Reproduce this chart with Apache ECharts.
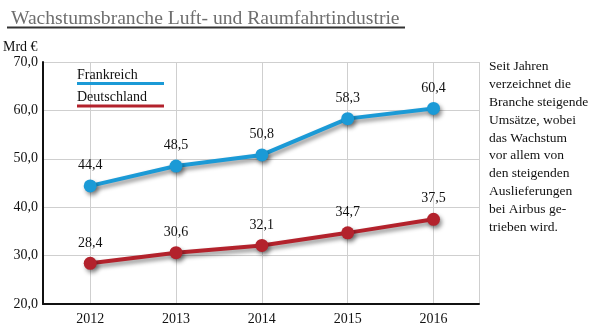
<!DOCTYPE html>
<html>
<head>
<meta charset="utf-8">
<script src="https://cdn.jsdelivr.net/npm/echarts@6/dist/echarts.min.js"></script>
<style>
  html, body { margin: 0; padding: 0; background: #fff; }
  #chart { width: 590px; height: 331px; }
</style>
</head>
<body>
<div id="chart"></div>
<script>
// Umsatz der Luft- und Raumfahrtindustrie in Mrd €
const years = [2012, 2013, 2014, 2015, 2016];
const frankreich = [44.4, 48.5, 50.8, 58.3, 60.4];
const deutschland = [28.4, 30.6, 32.1, 34.7, 37.5];
const yMin = 20, yMax = 70, yStep = 10;
const titleText = 'Wachstumsbranche Luft- und Raumfahrtindustrie';
const unitText = 'Mrd €';
const noteLines = [
  'Seit Jahren', 'verzeichnet die', 'Branche steigende', 'Umsätze, wobei',
  'das Wachstum', 'vor allem von', 'den steigenden', 'Auslieferungen',
  'bei Airbus ge-', 'trieben wird.'
];

const serif = '"Liberation Serif", "DejaVu Serif", serif';
const blue = '#1b9ad6';
const red = '#b3222c';
const fmt = v => v.toFixed(1).replace('.', ',');

const shadow = { shadowColor: 'rgba(0,0,0,0.45)', shadowBlur: 4, shadowOffsetX: 2, shadowOffsetY: 3 };

function lineSeries(name, values, color) {
  return {
    name: name,
    type: 'line',
    data: years.map((y, i) => [y, values[i]]),
    symbol: 'circle',
    symbolSize: 13,
    lineStyle: Object.assign({ color: color, width: 4 }, shadow),
    itemStyle: Object.assign({ color: color }, shadow),
    label: {
      show: true, position: 'top', distance: 7,
      color: '#111', fontFamily: serif, fontSize: 14,
      formatter: p => fmt(p.value[1])
    },
    emphasis: { disabled: true },
    z: 3
  };
}

const chart = echarts.init(document.getElementById('chart'), null, { renderer: 'canvas' });
chart.setOption({
  animation: false,
  backgroundColor: '#fff',
  title: {
    text: titleText, left: 6, top: 4,
    textStyle: { fontFamily: serif, fontSize: 19.6, fontWeight: 'normal', color: '#6e6e6e' }
  },
  graphic: [{
    type: 'line', shape: { x1: 7, y1: 27.5, x2: 405, y2: 27.5 },
    style: { stroke: '#333', lineWidth: 2 }
  }, {
    type: 'text', left: 489, top: 58,
    style: {
      text: noteLines.join('\n'), fontFamily: serif, fontSize: 13.5,
      lineHeight: 17.8, fill: '#111'
    }
  }],
  legend: {
    orient: 'vertical', left: 67, top: 63, itemGap: 1,
    icon: 'none', itemWidth: 0, itemHeight: 0,
    selectedMode: false,
    data: ['Frankreich', 'Deutschland'],
    formatter: name => '{t|' + name + '}\n{' + (name === 'Frankreich' ? 'b' : 'r') + '|}',
    textStyle: {
      rich: {
        t: { fontFamily: serif, fontSize: 14, color: '#111', height: 14, padding: [0, 0, 0, 0] },
        b: { width: 87, height: 3, backgroundColor: blue },
        r: { width: 87, height: 3, backgroundColor: red }
      }
    }
  },
  grid: { left: 43, right: 111, top: 62, bottom: 27, containLabel: false },
  xAxis: {
    type: 'value', min: 2011.45, max: 2016.53,
    axisLine: { show: true, onZero: false, lineStyle: { color: '#111', width: 2 } },
    axisTick: { show: false },
    axisLabel: {
      showMinLabel: false, showMaxLabel: false,
      fontFamily: serif, fontSize: 14, color: '#111', margin: 8,
      formatter: v => Number.isInteger(v) ? String(v) : ''
    },
    splitLine: { show: true, lineStyle: { color: '#cfcfcf', width: 1 } }
  },
  yAxis: {
    type: 'value', min: yMin, max: yMax, interval: yStep,
    name: unitText, nameLocation: 'end', nameGap: 8,
    nameTextStyle: { fontFamily: serif, fontSize: 14, color: '#111', align: 'left', padding: [0, 0, 0, -40] },
    axisLine: { show: true, lineStyle: { color: '#111', width: 2 } },
    axisTick: { show: false },
    axisLabel: { fontFamily: serif, fontSize: 14, color: '#111', margin: 5, formatter: v => fmt(v) },
    splitLine: { show: true, lineStyle: { color: '#cfcfcf', width: 1 } }
  },
  series: [
    lineSeries('Frankreich', frankreich, blue),
    lineSeries('Deutschland', deutschland, red)
  ]
});
</script>
</body>
</html>
